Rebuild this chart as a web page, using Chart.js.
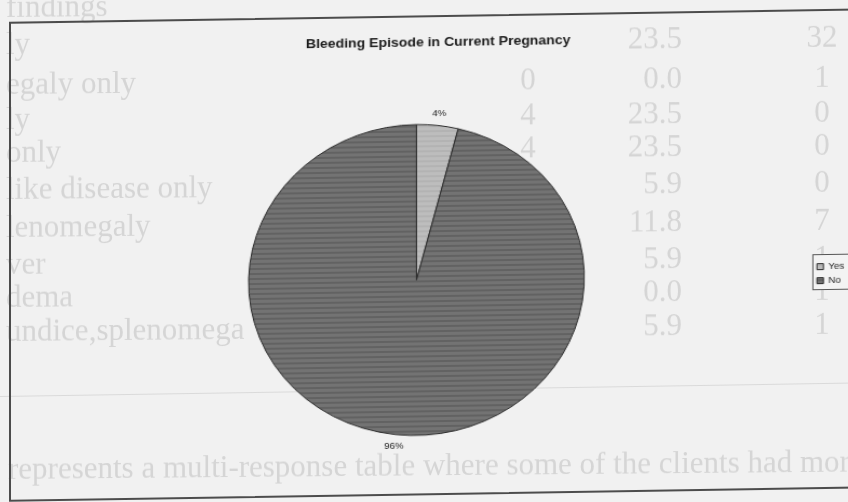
<!DOCTYPE html>
<html>
<head>
<meta charset="utf-8">
<title>Bleeding Episode in Current Pregnancy</title>
<script src="https://cdn.jsdelivr.net/npm/chart.js@4.4.1/dist/chart.umd.min.js"></script>
<style>
    html, body { margin: 0; padding: 0; width: 848px; height: 502px; overflow: hidden; background: #f1f1f1; }
    #backdrop {
        position: absolute; left: 0; top: 0; width: 900px; height: 520px;
        transform: skewY(-0.5deg); transform-origin: 0 0; filter: blur(0.6px);
        font-family: "Liberation Serif", "Times New Roman", serif; font-size: 31px; color: #d5d5d5;
    }
    #backdrop div { position: absolute; white-space: nowrap; line-height: 34px; }
    #sheet {
        position: absolute; left: 0; top: 0; width: 900px; height: 520px;
        transform: skewY(-0.9deg); transform-origin: 0 0;
    }
    #rule { position: absolute; left: 0; top: 396px; width: 900px; height: 1px; background: #dadada; }
    #frame {
        position: absolute; left: 9px; top: 22px; width: 880px; height: 480px;
        border: 2px solid #4c4c4c; box-sizing: border-box;
    }
    #plot {
        position: absolute; left: 0; top: 0; width: 800px; height: 480px;
        transform: scaleX(1.08); transform-origin: 0 0;
    }
</style>
</head>
<body>
<div id="backdrop"></div>
<div id="sheet">
    <div id="rule"></div>
    <div id="frame">
        <div id="plot"><canvas id="pieChart"></canvas></div>
    </div>
</div>
<script>
// pie data
const categories = ['Yes', 'No'];
const shares = [4, 96];

// table printed on the page underneath the chart
const rowCenters = [8, 45, 85, 120, 153, 190, 228, 265, 298, 332];
const rowNames = ['findings', 'ly', 'egaly only', 'ly', 'only', 'like disease only',
    'lenomegaly', 'ver', 'dema', 'undice,splenomega'];
const countCol = ['', '', '0', '4', '4', '', '', '', '', ''];
const percentCol = ['', '23.5', '0.0', '23.5', '23.5', '5.9', '11.8', '5.9', '0.0', '5.9'];
const otherCol = ['', '32', '1', '0', '0', '0', '7', '1', '1', '1'];
const footnote = 'represents a multi-response table where some of the clients had mor';

function addText(text, left, top, width, align) {
    const d = document.createElement('div');
    d.textContent = text;
    d.style.left = left + 'px';
    d.style.top = top + 'px';
    if (width) {
        d.style.width = width + 'px';
        d.style.textAlign = align;
    }
    document.getElementById('backdrop').appendChild(d);
}

rowCenters.forEach((c, i) => {
    const top = c - 18;
    addText(rowNames[i], 6, top);
    if (countCol[i]) addText(countCol[i], 498, top, 60, 'center');
    if (percentCol[i]) addText(percentCol[i], 582, top, 100, 'right');
    if (otherCol[i]) addText(otherCol[i], 792, top, 60, 'center');
});
addText(footnote, 8, 452);

// horizontal banding like the printed fill
function stripes(base, line) {
    const c = document.createElement('canvas');
    c.width = 8;
    c.height = 5;
    const g = c.getContext('2d');
    g.fillStyle = base;
    g.fillRect(0, 0, 8, 5);
    g.fillStyle = line;
    g.fillRect(0, 3, 8, 2);
    return g.createPattern(c, 'repeat');
}

// percentage labels just outside each slice
const sliceLabels = {
    id: 'sliceLabels',
    afterDatasetsDraw(chart) {
        const ctx = chart.ctx;
        const meta = chart.getDatasetMeta(0);
        const total = shares.reduce((a, b) => a + b, 0);
        ctx.save();
        ctx.font = '9px Arial';
        ctx.fillStyle = '#222';
        ctx.textAlign = 'center';
        ctx.textBaseline = 'middle';
        meta.data.forEach((arc, i) => {
            const p = arc.getProps(['x', 'y', 'startAngle', 'endAngle', 'outerRadius']);
            const mid = (p.startAngle + p.endAngle) / 2;
            const r = p.outerRadius + 12;
            ctx.fillText(Math.round(shares[i] / total * 100) + '%', p.x + Math.cos(mid) * r, p.y + Math.sin(mid) * r);
        });
        ctx.restore();
    }
};

// box round the legend: filled before drawing, outlined after
function legendRect(chart) {
    const boxes = chart.legend.legendHitBoxes;
    if (!boxes || !boxes.length) return null;
    const left = Math.round(Math.min(...boxes.map(b => b.left)) - 4);
    const top = Math.round(Math.min(...boxes.map(b => b.top)) - 8);
    const right = Math.round(Math.max(...boxes.map(b => b.left + b.width)) + 16);
    const bottom = Math.round(Math.max(...boxes.map(b => b.top + b.height)) + 4);
    return { left, top, w: right - left, h: bottom - top };
}

const legendFrame = {
    id: 'legendFrame',
    beforeDraw(chart) {
        const r = legendRect(chart);
        if (!r) return;
        chart.ctx.save();
        chart.ctx.fillStyle = '#f3f3f3';
        chart.ctx.fillRect(r.left, r.top, r.w, r.h);
        chart.ctx.restore();
    },
    afterDraw(chart) {
        const r = legendRect(chart);
        if (!r) return;
        const ctx = chart.ctx;
        ctx.save();
        ctx.strokeStyle = '#555';
        ctx.lineWidth = 1;
        ctx.strokeRect(r.left + 0.5, r.top + 0.5, r.w, r.h);
        ctx.restore();
    }
};

const ctx = document.getElementById('pieChart').getContext('2d');
new Chart(ctx, {
    type: 'pie',
    data: {
        labels: categories,
        datasets: [{
            data: shares,
            backgroundColor: [stripes('#bdbdbd', '#b3b3b3'), stripes('#737373', '#626262')],
            borderColor: '#2b2b2b',
            borderWidth: 1,
            hoverOffset: 0
        }]
    },
    options: {
        responsive: true,
        maintainAspectRatio: false,
        animation: false,
        layout: { padding: { left: 9.6, right: 18.6, top: 0, bottom: 61.5 } },
        plugins: {
            title: {
                display: true,
                text: 'Bleeding Episode in Current Pregnancy',
                color: '#1a1a1a',
                font: { family: 'Arial', size: 13, weight: 'bold' },
                padding: { top: 18, bottom: 73 }
            },
            legend: {
                position: 'right',
                fullSize: false,
                labels: {
                    boxWidth: 6,
                    boxHeight: 6,
                    padding: 5,
                    color: '#222',
                    font: { family: 'Arial', size: 9 }
                }
            },
            tooltip: { enabled: false }
        }
    },
    plugins: [sliceLabels, legendFrame]
});
</script>
</body>
</html>
